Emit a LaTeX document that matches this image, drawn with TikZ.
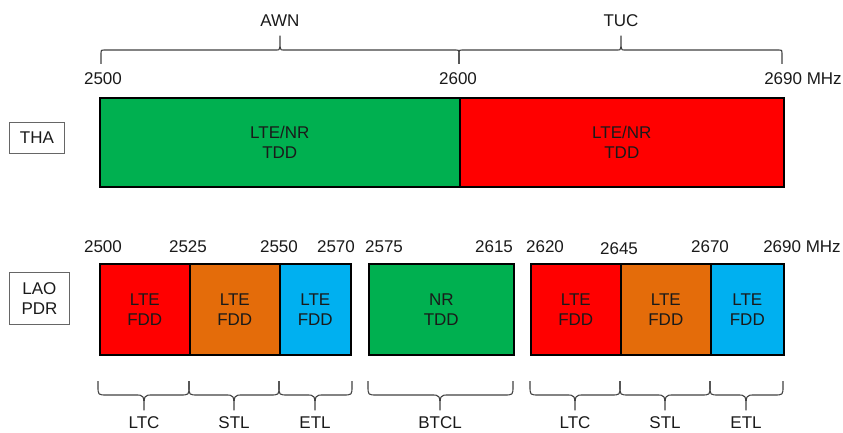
\documentclass[tikz,border=0pt]{standalone}
\usepackage{fontspec}
\setmainfont{Liberation Sans}
\definecolor{cgreen}{HTML}{00B050}
\definecolor{cred}{HTML}{FF0000}
\definecolor{corange}{HTML}{E46C0A}
\definecolor{cblue}{HTML}{00B0F0}
\definecolor{ctext}{HTML}{1A1A1A}
\definecolor{cbrace}{HTML}{404040}
\newcommand\myfont{\fontsize{17}{20}\selectfont}
\tikzset{
  band/.style={draw=black, line width=1.6pt, inner sep=0pt, anchor=north west,
    align=center, font=\myfont, text=ctext},
  lbl/.style={font=\myfont, text=ctext, inner sep=0pt},
  country/.style={draw=black!60, line width=0.9pt, inner sep=0pt, anchor=north west,
    align=center, font=\myfont, text=ctext},
  bracestyle/.style={draw=cbrace, line width=1.1pt, line join=round}
}
% name x1 y1 x2 y2 colour text
\newcommand\band[7]{%
  \node[band, fill=#6, minimum width={#4-#2}, minimum height={#5-#3}] (#1) at (#2,#3) {#7};}
% x1 x2 xm yend yline ytip re dy rt
\newcommand\bracepath[9]{%
  \draw[bracestyle] (#1,#4) -- (#1,{#5+#8}) .. controls (#1,#5) .. ({#1+#7},#5)
    -- ({#3-#9},#5) .. controls (#3,#5) .. (#3,#6) .. controls (#3,#5) .. ({#3+#9},#5)
    -- ({#2-#7},#5) .. controls (#2,#5) .. (#2,{#5+#8}) -- (#2,#4);}
\begin{document}
\begin{tikzpicture}[x=1pt,y=-1pt]
\useasboundingbox (0,0) rectangle (843,433);
% ---- top row (THA)
\node[country, minimum width=55, minimum height=31] (tha) at (9,122) {THA};
\band{awnband}{99}{97}{459}{186}{cgreen}{LTE/NR\\TDD}
\band{tucband}{459}{97}{783}{186}{cred}{LTE/NR\\TDD}
\node[lbl] (t2500) at (103,79) {2500};
\node[lbl] (t2600) at (458,79) {2600};
\node[lbl] (t2690) at (803,79) {2690 MHz};
\bracepath{101}{459}{280}{64}{50}{36}{3}{3}{3}
\bracepath{459}{782}{621}{64}{50}{36}{3}{3}{3}
\node[lbl] (awn) at (280,21) {AWN};
\node[lbl] (tuc) at (621,21) {TUC};
% ---- bottom row (LAO PDR)
\node[country, minimum width=60, minimum height=52] (lao) at (9,272) {LAO\\PDR};
\band{b1}{99}{263}{189}{354}{cred}{LTE\\FDD}
\band{b2}{189}{263}{279}{354}{corange}{LTE\\FDD}
\band{b3}{279}{263}{350}{354}{cblue}{LTE\\FDD}
\band{b4}{368}{263}{513}{354}{cgreen}{NR\\TDD}
\band{b5}{530}{263}{620}{354}{cred}{LTE\\FDD}
\band{b6}{620}{263}{710}{354}{corange}{LTE\\FDD}
\band{b7}{710}{263}{783}{354}{cblue}{LTE\\FDD}
\node[lbl] (l2500) at (103,247) {2500};
\node[lbl] (l2525) at (188,247) {2525};
\node[lbl] (l2550) at (279,247) {2550};
\node[lbl] (l2570) at (336,247) {2570};
\node[lbl] (l2575) at (384,247) {2575};
\node[lbl] (l2615) at (494,247) {2615};
\node[lbl] (l2620) at (545,247) {2620};
\node[lbl] (l2645) at (619,249) {2645};
\node[lbl] (l2670) at (710,247) {2670};
\node[lbl] (l2690) at (802,247) {2690 MHz};
% bottom braces
\bracepath{98}{189}{144}{381}{395}{410}{9}{-9}{9}
\bracepath{189}{279}{234}{381}{395}{410}{9}{-9}{9}
\bracepath{279}{352}{315}{381}{395}{410}{9}{-9}{9}
\bracepath{368}{513}{440}{381}{395}{410}{9}{-9}{9}
\bracepath{530}{620}{575}{381}{395}{410}{9}{-9}{9}
\bracepath{620}{710}{665}{381}{395}{410}{9}{-9}{9}
\bracepath{710}{783}{746}{381}{395}{410}{9}{-9}{9}
\node[lbl] (ltc1) at (144,423) {LTC};
\node[lbl] (stl1) at (234,423) {STL};
\node[lbl] (etl1) at (315,423) {ETL};
\node[lbl] (btcl) at (440,423) {BTCL};
\node[lbl] (ltc2) at (575,423) {LTC};
\node[lbl] (stl2) at (665,423) {STL};
\node[lbl] (etl2) at (746,423) {ETL};
\end{tikzpicture}
\end{document}
